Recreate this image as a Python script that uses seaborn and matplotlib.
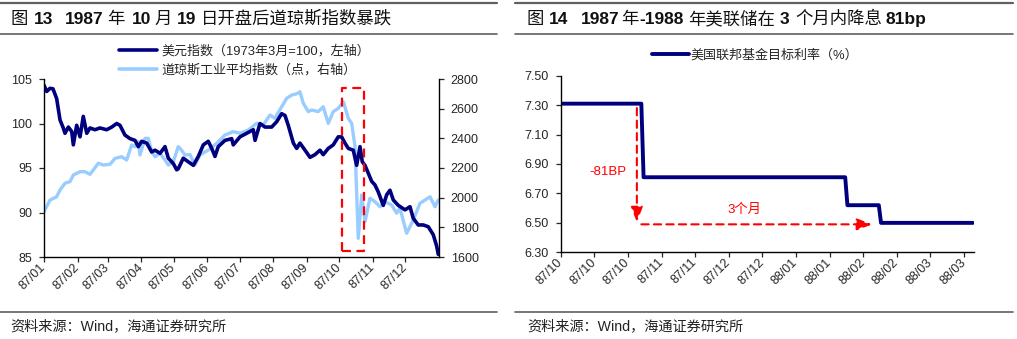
import numpy as np
import pandas as pd
import matplotlib
matplotlib.use("Agg")
import matplotlib.pyplot as plt
import matplotlib.dates as mdates
from matplotlib.lines import Line2D
from matplotlib.ticker import FixedLocator, FuncFormatter
import seaborn as sns

# ---------------- data ----------------
# Figure 13: day offsets within 1987 and values
usd_day = [0, 2.5, 5.5, 8.3, 11.7, 14.8, 17.8, 19.4, 22.5, 25.6, 27.1, 30.2, 33.3, 36.3, 39.5,
           42.5, 47.1, 51.7, 57.9, 62.6, 67.2, 70.2, 74.8, 79.5, 84.1, 87.1, 90.3, 94.9, 99.5,
           102.6, 107.2, 111.8, 114.9, 119.5, 122.6, 124, 128.7, 133.3, 138, 142.6, 147.2, 151.8,
           155, 158, 161, 167.2, 173.4, 174.9, 181.1, 187.3, 193.4, 195, 199.6, 204.2, 210.4, 215,
           219.6, 222.7, 225.7, 230.4, 233.5, 236.5, 241.2, 245.8, 250.4, 255, 258, 262.7, 267.3,
           271.9, 275, 278.1, 281.2, 285.8, 288.9, 292, 294.1, 296.6, 299.7, 302.8, 305.8, 308.9,
           313.5, 316.7, 319.7, 322.8, 327.4, 333.6, 338.2, 341.2, 345.8, 350.5, 355.1, 359.7,
           362.9, 364.3]
usd_val = [104.3, 103.6, 103.95, 103.9, 102.8, 100.4, 99.5, 98.9, 99.6, 99.1, 97.6, 99.8, 98.5,
           100.8, 98.9, 99.5, 99.3, 99.5, 99.3, 99.6, 100.0, 99.8, 98.7, 98.3, 98.1, 97.4, 98.0,
           97.8, 96.8, 97.0, 96.65, 97.4, 96.1, 95.5, 94.8, 94.9, 96.1, 95.7, 95.3, 96.3, 97.6,
           98.0, 97.2, 96.3, 97.4, 98.1, 98.3, 97.6, 98.5, 98.9, 99.3, 98.1, 100.0, 99.6, 99.6,
           100.2, 101.1, 100.9, 99.8, 97.8, 97.2, 97.8, 97.0, 96.2, 96.5, 97.0, 96.5, 97.2, 97.6,
           98.5, 98.5, 97.8, 97.2, 97.0, 95.3, 97.4, 95.7, 95.3, 94.4, 93.5, 93.1, 92.3, 90.8,
           92.0, 92.5, 91.4, 90.8, 90.3, 90.65, 89.35, 88.6, 88.6, 88.4, 87.5, 86.2, 85.3]

dji_day = [0, 5.5, 11.7, 14.8, 19.4, 24, 27.1, 33.3, 37.9, 42.5, 50.2, 54.8, 61, 65.6, 71.8,
           76.4, 81, 84.1, 87.1, 88.7, 93.3, 96.4, 99.5, 102.6, 107.2, 111.8, 114.9, 119.5, 121,
           124, 125.7, 130.3, 134.9, 139.5, 144.1, 151.8, 159.6, 167.2, 174.9, 181.1, 188.8,
           196.5, 202.6, 208.8, 213.4, 219.6, 224.3, 228.9, 233.5, 236.5, 239.6, 244.2, 247.4,
           253.4, 258, 262.7, 267.3, 271.9, 276.6, 281.2, 284.3, 287.4, 290.4, 293.6, 296.6,
           301.2, 305.8, 310.5, 315.1, 321.3, 325.9, 328.9, 335.1, 341.2, 347.4, 356.7, 361.3,
           364.3]
dji_val = [1905, 1984, 2006, 2052, 2097, 2108, 2153, 2175, 2175, 2157, 2232, 2220, 2225, 2265,
           2276, 2254, 2355, 2344, 2377, 2288, 2400, 2400, 2310, 2276, 2299, 2254, 2220, 2243,
           2276, 2344, 2333, 2288, 2290, 2220, 2288, 2321, 2366, 2422, 2445, 2434, 2456, 2501,
           2490, 2557, 2535, 2613, 2670, 2692, 2700, 2714, 2636, 2580, 2591, 2580, 2613, 2501,
           2580, 2602, 2647, 2535, 2501, 2344, 1726, 2018, 1838, 1996, 1973, 1939, 1973, 1950,
           1895, 1930, 1760, 1849, 1962, 2006, 1939, 1984]

usd_label = "美元指数（1973年3月=100，左轴）"
dji_label = "道琼斯工业平均指数（点，右轴）"
left_tick_labels = ["87/01", "87/02", "87/03", "87/04", "87/05", "87/06",
                    "87/07", "87/08", "87/09", "87/10", "87/11", "87/12"]
left_y_ticks = [85, 90, 95, 100, 105]
right_y_ticks = [1600, 1800, 2000, 2200, 2400, 2600, 2800]
# highlight box (day range, left-axis value range)
box_days = (275.4, 295.7)
box_vals = (85.7, 104.0)

# Figure 14
rate_dates = ["1987-10-01", "1987-11-06", "1987-11-07", "1988-02-05", "1988-02-06",
              "1988-02-20", "1988-02-21", "1988-04-02"]
rate_vals = [7.31, 7.31, 6.81, 6.81, 6.62, 6.62, 6.50, 6.50]
rate_label = "美国联邦基金目标利率（%）"
rate_y_ticks = [6.30, 6.50, 6.70, 6.90, 7.10, 7.30, 7.50]

# title pieces: (text, bold, left x in pixels)
title_left = [("图", False, 10), ("13", True, 34), ("1987", True, 65), ("年", False, 107),
              ("10", True, 132), ("月", False, 154), ("19", True, 177),
              ("日开盘后道琼斯指数暴跌", False, 201)]
title_right = [("图", False, 527), ("14", True, 549), ("1987", True, 581), ("年", False, 621),
               ("-1988", True, 639), ("年美联储在", False, 688), ("3", True, 780),
               ("个月内降息", False, 795), ("81bp", True, 886)]
source_text = "资料来源：Wind，海通证券研究所"

# ---------------- style ----------------
sns.set_style("ticks")
plt.rcParams["font.family"] = ["Liberation Sans", "Noto Sans CJK SC", "DejaVu Sans"]
plt.rcParams["axes.unicode_minus"] = False

NAVY = "#00007F"
LIGHT = "#99CCFF"
RED = "#FF0000"
GREY = "#606060"

W, H = 1017, 339
fig = plt.figure(figsize=(W / 100, H / 100), dpi=100)


def fx(px):
    return px / W


def fy(py):
    return 1 - py / H


def style_xlabels(ax):
    for lab in ax.get_xticklabels():
        lab.set_rotation(45)
        lab.set_ha("right")
        lab.set_va("center")
        lab.set_rotation_mode("anchor")


# ---------------- left chart ----------------
base = pd.Timestamp("1987-01-01")
usd_df = pd.DataFrame({"date": base + pd.to_timedelta(usd_day, unit="D"), "v": usd_val})
dji_df = pd.DataFrame({"date": base + pd.to_timedelta(dji_day, unit="D"), "v": dji_val})

axL = fig.add_axes([fx(44), fy(257), fx(439) - fx(44), fy(79) - fy(257)])
axL2 = axL.twinx()
sns.lineplot(data=dji_df, x="date", y="v", ax=axL2, color=LIGHT, lw=2.4,
             estimator=None, legend=False)
sns.lineplot(data=usd_df, x="date", y="v", ax=axL, color=NAVY, lw=2.6,
             estimator=None, legend=False)
axL.set_zorder(axL2.get_zorder() + 1)
axL.patch.set_visible(False)

x0 = mdates.date2num(base)
x1 = mdates.date2num(pd.Timestamp("1988-01-01"))
axL.set_xlim(x0, x1)
axL2.set_xlim(x0, x1)
axL.set_ylim(85, 105)
axL2.set_ylim(1600, 2800)
month_starts = [mdates.date2num(pd.Timestamp(f"1987-{m:02d}-01")) for m in range(1, 13)]
axL.xaxis.set_major_locator(FixedLocator(month_starts))
axL.set_xticklabels(left_tick_labels)
axL.set_yticks(left_y_ticks)
axL2.set_yticks(right_y_ticks)

bx0 = mdates.date2num(base + pd.Timedelta(days=box_days[0]))
bx1 = mdates.date2num(base + pd.Timedelta(days=box_days[1]))
axL.plot([bx0, bx1, bx1, bx0, bx0], [box_vals[0], box_vals[0], box_vals[1], box_vals[1], box_vals[0]],
         color=RED, lw=1.6, ls=(0, (4, 2.5)), zorder=5)

for a in (axL, axL2):
    a.set_xlabel("")
    a.set_ylabel("")
    a.spines["top"].set_visible(False)
    for s in a.spines.values():
        s.set_color("black")
        s.set_linewidth(1.0)
axL.spines["right"].set_visible(False)
axL2.spines["left"].set_visible(False)
axL2.spines["bottom"].set_visible(False)
axL.tick_params(axis="y", labelsize=9, length=3.5, width=0.9, direction="out", pad=5)
axL2.tick_params(axis="y", labelsize=9, length=3.5, width=0.9, direction="out", pad=5)
axL.tick_params(axis="x", labelsize=9, length=3.5, width=0.9, direction="out", pad=2.5)
style_xlabels(axL)

legL = fig.legend([axL.lines[0], axL2.lines[0]], [usd_label, dji_label],
                  loc="upper left", bbox_to_anchor=(fx(119), fy(45)), frameon=False,
                  fontsize=9.4, handlelength=2.9, handletextpad=0.35, labelspacing=0.45,
                  borderpad=0, borderaxespad=0)
for h in legL.legend_handles:
    h.set_linewidth(2.6)

# ---------------- right chart ----------------
rate_df = pd.DataFrame({"date": pd.to_datetime(rate_dates), "v": rate_vals})
axR = fig.add_axes([fx(560.7), fy(252.3), fx(974) - fx(560.7), fy(75.7) - fy(252.3)])
sns.lineplot(data=rate_df, x="date", y="v", ax=axR, color=NAVY, lw=2.8,
             estimator=None, legend=False, sort=False)
r0 = pd.Timestamp("1987-10-01")
axR.set_xlim(mdates.date2num(r0), mdates.date2num(r0 + pd.Timedelta(days=184.5)))
axR.set_ylim(6.30, 7.50)
rticks = [mdates.date2num(r0 + pd.Timedelta(days=15 * i)) for i in range(13)]
axR.xaxis.set_major_locator(FixedLocator(rticks))
axR.xaxis.set_major_formatter(mdates.DateFormatter("%y/%m"))
axR.set_yticks(rate_y_ticks)
axR.yaxis.set_major_formatter(FuncFormatter(lambda v, p: f"{v:.2f}"))
axR.set_xlabel("")
axR.set_ylabel("")
for s in ("top", "right"):
    axR.spines[s].set_visible(False)
for s in ("left", "bottom"):
    axR.spines[s].set_color("black")
    axR.spines[s].set_linewidth(1.0)
axR.tick_params(axis="y", labelsize=9, length=3.5, width=0.9, direction="out", pad=5)
axR.tick_params(axis="x", labelsize=9, length=3.5, width=0.9, direction="out", pad=2.5)
style_xlabels(axR)

# annotations: -81BP drop and 3-month span
arr_x = mdates.date2num(pd.Timestamp("1987-11-04"))
arr_end_x = mdates.date2num(pd.Timestamp("1988-02-17"))
dash = (0, (3.5, 2.5))
axR.annotate("", xy=(arr_x, 6.505), xytext=(arr_x, 7.28),
             arrowprops=dict(arrowstyle="-|>,head_width=0.35,head_length=0.9",
                             color=RED, lw=1.5, ls=dash, shrinkA=0, shrinkB=0))
axR.annotate("", xy=(arr_end_x, 6.49), xytext=(arr_x + 2, 6.49),
             arrowprops=dict(arrowstyle="-|>,head_width=0.35,head_length=0.9",
                             color=RED, lw=1.5, ls=dash, shrinkA=0, shrinkB=0))
axR.text(mdates.date2num(pd.Timestamp("1987-10-22")), 6.845, "-81BP", color=RED,
         fontsize=9.5, ha="center", va="center")
axR.text(mdates.date2num(pd.Timestamp("1987-12-22")), 6.59, "3个月", color=RED,
         fontsize=9.5, ha="center", va="center")

legR = fig.legend([axR.lines[0]], [rate_label], loc="upper left",
                  bbox_to_anchor=(fx(652), fy(49)), frameon=False, fontsize=9.4,
                  handlelength=2.8, handletextpad=0.15, borderpad=0, borderaxespad=0)
for h in legR.legend_handles:
    h.set_linewidth(2.8)

# ---------------- titles, rules, sources ----------------
for (xa, xb) in ((0, 497), (515, 1013)):
    fig.add_artist(Line2D([fx(xa), fx(xb)], [fy(3), fy(3)], color=GREY, lw=1.6))
    fig.add_artist(Line2D([fx(xa), fx(xb)], [fy(33.5), fy(33.5)], color=GREY, lw=1.2))
    fig.add_artist(Line2D([fx(xa), fx(xb)], [fy(312), fy(312)], color=GREY, lw=1.2))

for parts in (title_left, title_right):
    for s, bold, xpx in parts:
        fig.text(fx(xpx), fy(24), s, fontsize=12.5,
                 fontweight="bold" if bold else "normal", ha="left", va="baseline",
                 color="#111111")

fig.text(fx(10), fy(326), source_text, fontsize=10.2, ha="left", va="center", color="#222222")
fig.text(fx(527), fy(326), source_text, fontsize=10.2, ha="left", va="center", color="#222222")

fig.savefig("out.png", dpi=100)
